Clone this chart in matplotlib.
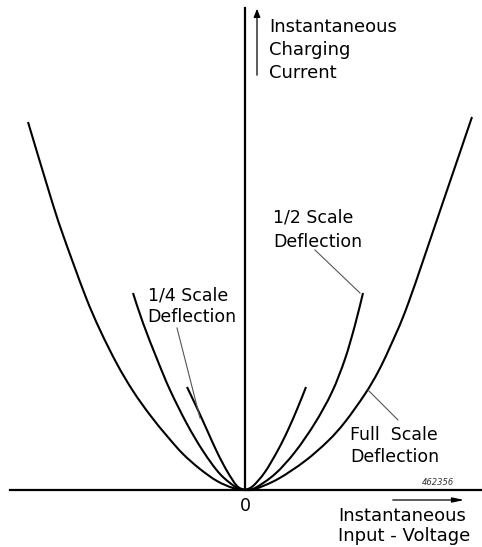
import matplotlib
matplotlib.use("Agg")
import matplotlib.pyplot as plt
from matplotlib.path import Path
from matplotlib.patches import PathPatch

# Curves: (input voltage offset, charging current) in drawing units
full_left_v  = [-217, -195, -183, -160, -145, -128, -112, -95, -78, -62, -45, -28, -12, 0]
full_left_i  = [368, 295, 258, 195, 160, 126, 99, 75, 54, 36, 21, 9, 2, 0]
full_right_v = [0, 10, 33, 60, 83, 100, 120, 133, 145, 163, 197, 227]
full_right_i = [0, 1, 11, 29, 49, 68, 96, 118, 143, 186, 285, 373]

half_left_v  = [-112, -102, -88, -75, -58, -42, -25, -8, 0]
half_left_i  = [197, 167, 131, 100, 66, 39, 16, 2, 0]
half_right_v = [0, 10, 30, 50, 70, 87, 100, 110, 118]
half_right_i = [0, 2, 16, 38, 67, 98, 131, 165, 197]

quarter_left_v  = [-58, -48, -38, -28, -18, -8, 0]
quarter_left_i  = [103, 82, 60, 38, 19, 4, 0]
quarter_right_v = [0, 8, 20, 33, 43, 53, 61]
quarter_right_i = [0, 4, 18, 40, 60, 83, 103]

fig = plt.figure(figsize=(4.82, 5.47), dpi=100)
ax = fig.add_axes([0, 0, 1, 1])
ax.set_xlim(-245, 237)
ax.set_ylim(-57, 490)
ax.axis("off")


def smooth_path(xs, ys):
    pts = list(zip(xs, ys))
    n = len(pts)
    verts = [pts[0]]
    codes = [Path.MOVETO]
    for k in range(n - 1):
        p0 = pts[k - 1] if k > 0 else pts[k]
        p1 = pts[k]
        p2 = pts[k + 1]
        p3 = pts[k + 2] if k + 2 < n else pts[k + 1]
        c1 = (p1[0] + (p2[0] - p0[0]) / 6.0, p1[1] + (p2[1] - p0[1]) / 6.0)
        c2 = (p2[0] - (p3[0] - p1[0]) / 6.0, p2[1] - (p3[1] - p1[1]) / 6.0)
        verts += [c1, c2, p2]
        codes += [Path.CURVE4] * 3
    return Path(verts, codes)


lw = 1.5
for v, i in [(full_left_v, full_left_i), (full_right_v, full_right_i),
             (half_left_v, half_left_i), (half_right_v, half_right_i),
             (quarter_left_v, quarter_left_i), (quarter_right_v, quarter_right_i)]:
    ax.add_patch(PathPatch(smooth_path(v, i), facecolor="none", edgecolor="black",
                           lw=lw, capstyle="butt", joinstyle="round"))

# axes
ax.plot([-235, 237], [0, 0], color="black", lw=1.6)
ax.plot([0, 0], [0, 482], color="black", lw=1.6)

# arrows
ax.annotate("", xy=(12, 484), xytext=(12, 412),
            arrowprops=dict(arrowstyle="-|>,head_length=0.5,head_width=0.2", color="black", lw=0.9))
ax.annotate("", xy=(222, -10), xytext=(145, -10),
            arrowprops=dict(arrowstyle="-|>,head_length=0.7,head_width=0.15", color="black", lw=0.9))

# pointer lines
pc = "#555555"
ax.plot([70, 115], [240, 197], color=pc, lw=0.8)
ax.plot([-68, -45], [162, 72], color=pc, lw=0.8)
ax.plot([123, 153], [100, 70], color=pc, lw=0.8)

fs_big = 13
fs = 12.5
def txt(x, y, s, size=fs, **kw):
    ax.text(x, y, s, fontsize=size, ha="left", va="baseline", family="DejaVu Sans", **kw)

# labels (pixel y -> data 490 - y)
txt(24, 490 - 32, "Instantaneous", fs_big)
txt(24, 490 - 55, "Charging", fs_big)
txt(24, 490 - 78, "Current", fs_big)

txt(28, 490 - 223, "1/2 Scale")
txt(28, 490 - 247, "Deflection")

txt(-97, 490 - 300, "1/4 Scale")
txt(-98, 490 - 322, "Deflection")

txt(105, 490 - 440, "Full  Scale")
txt(105, 490 - 462, "Deflection")

ax.text(0, 490 - 511, "0", fontsize=fs, ha="center", va="baseline")

txt(93, 490 - 521, "Instantaneous", fs_big)
txt(93, 490 - 541, "Input - Voltage", fs_big)

ax.text(177, 490 - 485, "462356", fontsize=6, style="italic", ha="left", va="baseline", color="#333333")

fig.savefig("out.png", dpi=100, facecolor="white")
